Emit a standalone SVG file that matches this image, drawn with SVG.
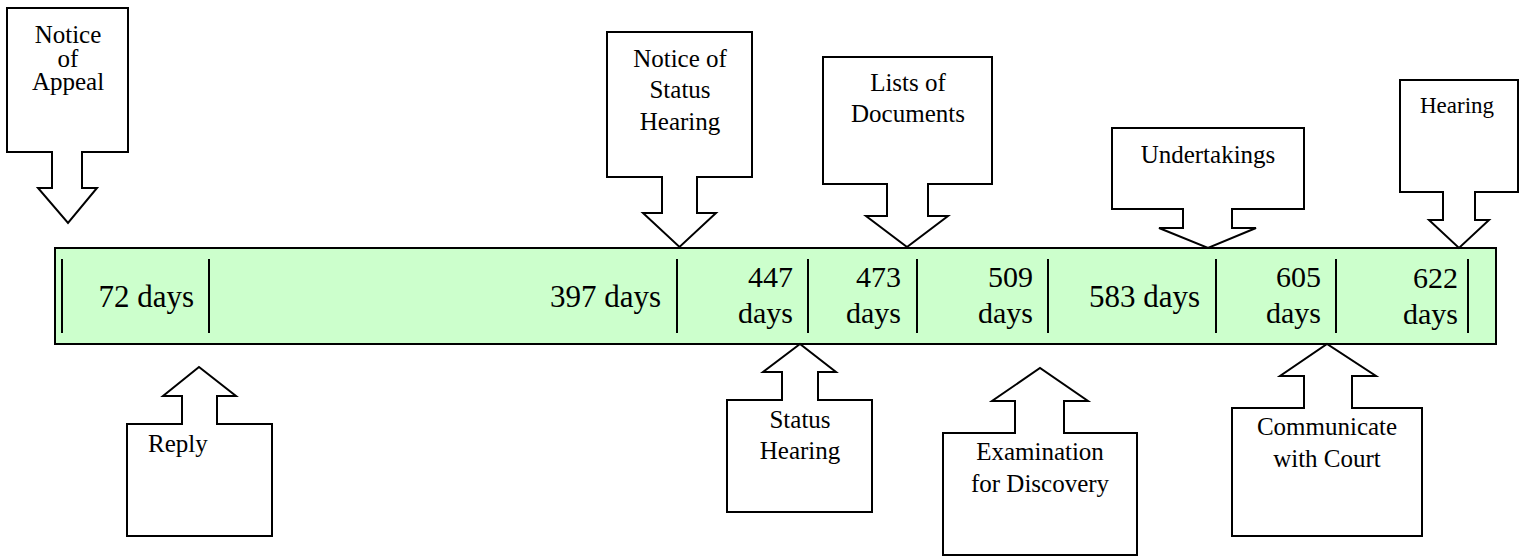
<svg xmlns="http://www.w3.org/2000/svg" width="1530" height="559" viewBox="0 0 1530 559">
<style>
.co{fill:#fff;stroke:#000;stroke-width:2;stroke-linejoin:miter}
.t{font-family:"Liberation Serif","Times New Roman",serif;font-size:25px;fill:#000}
.c{text-anchor:middle}
.b{font-family:"Liberation Serif","Times New Roman",serif;font-size:31px;fill:#000;text-anchor:end}
.b2{font-family:"Liberation Serif","Times New Roman",serif;font-size:30px;fill:#000;text-anchor:end}
.dv{stroke:#000;stroke-width:2}
</style>
<rect width="1530" height="559" fill="#fff"/>
<g id="timeline">
<rect x="55" y="248" width="1441" height="96" fill="#ccffcc" stroke="#000" stroke-width="2"/>
<g class="dv">
<line x1="62" y1="259" x2="62" y2="333"/>
<line x1="209" y1="259" x2="209" y2="333"/>
<line x1="677" y1="259" x2="677" y2="333"/>
<line x1="808" y1="259" x2="808" y2="333"/>
<line x1="917" y1="259" x2="917" y2="333"/>
<line x1="1048" y1="259" x2="1048" y2="333"/>
<line x1="1216" y1="259" x2="1216" y2="333"/>
<line x1="1336" y1="259" x2="1336" y2="333"/>
<line x1="1468" y1="259" x2="1468" y2="333"/>
</g>
<text class="b" x="194" y="307">72 days</text>
<text class="b" x="661" y="307">397 days</text>
<text class="b2" x="793" y="287">447</text><text class="b2" x="793" y="323">days</text>
<text class="b2" x="901" y="287">473</text><text class="b2" x="901" y="323">days</text>
<text class="b2" x="1033" y="287">509</text><text class="b2" x="1033" y="323">days</text>
<text class="b" x="1200" y="307">583 days</text>
<text class="b2" x="1321" y="287">605</text><text class="b2" x="1321" y="323">days</text>
<text class="b2" x="1458" y="288">622</text><text class="b2" x="1458" y="324">days</text>
</g>
<g id="connectors"></g>
<g id="notice-of-appeal">
<path class="co" d="M7 8H128V152H82V188H97L68 223L38 188H52V152H7Z"/>
<text class="t c" x="68" y="43">Notice</text>
<text class="t c" x="68" y="67">of</text>
<text class="t c" x="68" y="90">Appeal</text>
</g>
<g id="notice-of-status-hearing">
<path class="co" d="M607 32H752V177H697V213H716L679.5 247L643 213H662V177H607Z"/>
<text class="t c" x="680" y="67">Notice of</text>
<text class="t c" x="680" y="98">Status</text>
<text class="t c" x="680" y="130">Hearing</text>
</g>
<g id="lists-of-documents">
<path class="co" d="M823 57H992V184H928V216H948L907 247L866 216H887V184H823Z"/>
<text class="t c" x="908" y="91">Lists of</text>
<text class="t c" x="908" y="122">Documents</text>
</g>
<g id="undertakings">
<path class="co" d="M1112 128H1304V209H1232V228H1256L1208 248L1159 228H1183V209H1112Z"/>
<text class="t c" x="1208" y="163">Undertakings</text>
</g>
<g id="hearing">
<path class="co" d="M1400 80H1518V192H1475V220H1489L1459 248L1429 220H1443V192H1400Z"/>
<text class="t c" x="1457" y="113" style="font-size:23px">Hearing</text>
</g>
<g id="reply">
<path class="co" d="M127 424H182V396H163L199 367L236 396H217V424H272V536H127Z"/>
<text class="t" x="148" y="452">Reply</text>
</g>
<g id="status-hearing">
<path class="co" d="M727 400H782V372H763L800 344L836 372H818V400H872V512H727Z"/>
<text class="t c" x="800" y="428">Status</text>
<text class="t c" x="800" y="459">Hearing</text>
</g>
<g id="examination-for-discovery">
<path class="co" d="M943 433H1015V401H992L1040 368L1088 401H1064V433H1137V555H943Z"/>
<text class="t c" x="1040" y="460">Examination</text>
<text class="t c" x="1040" y="492">for Discovery</text>
</g>
<g id="communicate-with-court">
<path class="co" d="M1232 408H1304V376H1280L1327 344L1376 376H1352V408H1422V536H1232Z"/>
<text class="t c" x="1327" y="435">Communicate</text>
<text class="t c" x="1327" y="467">with Court</text>
</g>
</svg>
